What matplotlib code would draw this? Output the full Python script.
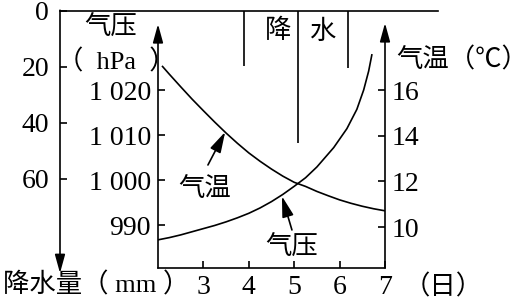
import matplotlib.pyplot as plt

# precipitation (hanging from the top line)
rain_days = [3.89, 5.08, 6.18]
rain_mm = [19.6, 47.0, 20.4]
rain_ticks = [0, 20, 40, 60]

# air pressure curve (hPa)
p_days = [2.0, 2.25, 2.5, 2.75, 3.0, 3.25, 3.5, 3.75, 4.0, 4.25, 4.5, 4.75, 5.0,
          5.25, 5.5, 5.87, 6.16, 6.38, 6.53, 6.64, 6.71]
p_hpa = [986.7, 987.2, 987.8, 988.5, 989.2, 989.9, 990.7, 991.6, 992.6, 993.8,
         995.2, 996.8, 998.6, 1000.5, 1002.9, 1007.2, 1011.4, 1015.7, 1020.0,
         1024.2, 1027.8]
p_ticks = [990, 1000, 1010, 1020]
p_labels = ["990", "1 000", "1 010", "1 020"]

# air temperature curve (deg C)
t_days = [2.1, 2.25, 2.5, 2.75, 3.0, 3.25, 3.5, 3.75, 4.0, 4.25, 4.5, 4.75, 5.0,
          5.25, 5.5, 5.75, 6.0, 6.25, 6.5, 6.75, 7.0]
t_c = [17.04, 16.70, 16.15, 15.61, 15.10, 14.60, 14.12, 13.67, 13.25, 12.88,
       12.54, 12.23, 11.96, 11.78, 11.56, 11.37, 11.19, 11.04, 10.91, 10.80, 10.71]
t_ticks = [10, 12, 14, 16]

day_ticks = [3, 4, 5, 6, 7]

FAM = ["Liberation Serif", "Noto Sans CJK SC"]
CJK = ["Noto Sans CJK SC", "Liberation Serif"]
plt.rcParams["font.family"] = FAM

W, H = 531, 302
fig = plt.figure(figsize=(W / 100, H / 100), dpi=100)


def box(l, t, r, b):
    return [l / W, 1 - b / H, (r - l) / W, (b - t) / H]


lw = 1.2
px_day = (385 - 158) / 5.0
head = dict(arrowstyle="-|>,head_width=0.22,head_length=0.8", lw=lw, color="k",
            mutation_scale=14, shrinkA=0, shrinkB=0)

# precipitation axes (behind)
ax_p = fig.add_axes(box(60, 11, 438, 268))
ax_p.set_xlim(2 - (158 - 60) / px_day, 2 + (438 - 158) / px_day)
ax_p.set_ylim((268 - 11) / 2.8, 0)
ax_p.vlines(rain_days, 0, rain_mm, color="k", lw=lw)
for s in ["left", "right", "bottom"]:
    ax_p.spines[s].set_visible(False)
ax_p.spines["top"].set_linewidth(lw)
ax_p.set_xticks([])
ax_p.set_yticks(rain_ticks)
ax_p.tick_params(axis="y", direction="in", length=5, width=lw, labelsize=20, pad=8)
ax_p.annotate("", xy=(0, -0.02), xytext=(0, 1.003), xycoords="axes fraction",
              arrowprops=head)

# pressure / day axes
ax = fig.add_axes(box(158, 11, 385, 268))
ax.patch.set_visible(False)
ax.set_xlim(2, 7)
ax.set_ylim(990 - (268 - 225) / 4.5, 990 + (225 - 11) / 4.5)
ax.plot(p_days, p_hpa, color="k", lw=lw)
for s in ["left", "right", "top"]:
    ax.spines[s].set_visible(False)
ax.spines["bottom"].set_linewidth(lw)
ax.set_xticks(day_ticks)
ax.set_yticks(p_ticks)
ax.set_yticklabels(p_labels)
ax.tick_params(direction="in", length=5, width=lw, labelsize=20, pad=5)
ax.annotate("", xy=(0, 0.949), xytext=(0, 0), xycoords="axes fraction", arrowprops=head)
ax.annotate("", xy=(1, 0.953), xytext=(1, 0), xycoords="axes fraction", arrowprops=head)

# temperature axis
ax2 = ax.twinx()
ax2.set_ylim(10 - (268 - 227) / 22.8, 10 + (227 - 11) / 22.8)
ax2.plot(t_days, t_c, color="k", lw=lw)
for s in ax2.spines.values():
    s.set_visible(False)
ax2.set_yticks(t_ticks)
ax2.tick_params(direction="in", length=5, width=lw, labelsize=20, pad=5)

# curve labels with arrows
arr = dict(arrowstyle="-|>,head_width=0.25,head_length=0.9", lw=lw, color="k",
           mutation_scale=14, shrinkA=0, shrinkB=0)
ax2.annotate("", xy=(3.48, 14.17), xytext=(3.10, 12.72), arrowprops=arr)
ax2.text(3.03, 11.7, "气温", fontsize=19, family=CJK, ha="center", va="center")
ax.annotate("", xy=(4.73, 996.4), xytext=(4.95, 988.9), arrowprops=arr)
ax.text(4.95, 985.1, "气压", fontsize=19, family=CJK, ha="center", va="center")

# axis titles
fig.text(111 / W, 1 - 27 / H, "气压", fontsize=19, family=CJK, ha="center", va="center")
fig.text(116 / W, 1 - 62 / H, "（  hPa  ）", fontsize=19, family=FAM, ha="center", va="center")
fig.text(528 / W, 1 - 60 / H, "气温（℃）", fontsize=19, family=FAM, ha="right", va="center")
fig.text(3 / W, 1 - 285 / H, "降水量（ mm ）", fontsize=19, family=FAM, ha="left", va="center")
fig.text(404 / W, 1 - 287 / H, "（日）", fontsize=19, family=FAM, ha="left", va="center")
fig.text(278 / W, 1 - 31 / H, "降", fontsize=19, family=CJK, ha="center", va="center")
fig.text(322 / W, 1 - 31 / H, "水", fontsize=19, family=CJK, ha="center", va="center")

fig.savefig("out.png", dpi=100)
